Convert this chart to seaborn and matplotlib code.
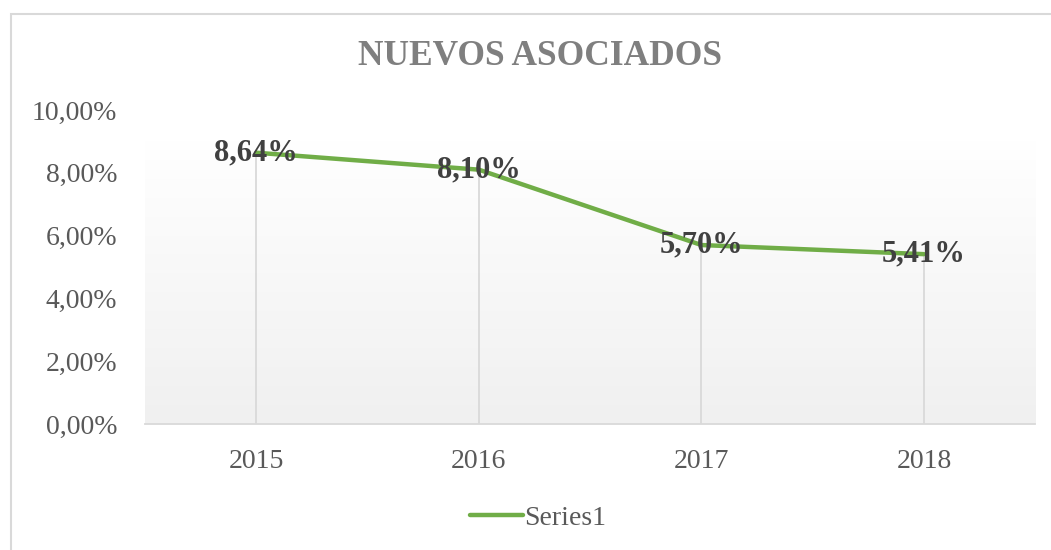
import numpy as np
import pandas as pd
import matplotlib
matplotlib.use("Agg")
import matplotlib.pyplot as plt
from matplotlib.patches import Rectangle
import seaborn as sns

# values
years = ["2015", "2016", "2017", "2018"]
values = [8.64, 8.10, 5.70, 5.41]
labels = ["8,64%", "8,10%", "5,70%", "5,41%"]
y_ticks = [0, 2, 4, 6, 8, 10]
y_tick_labels = ["0,00%", "2,00%", "4,00%", "6,00%", "8,00%", "10,00%"]
series_name = "Series1"

df = pd.DataFrame({"year": years, "value": values, "series": series_name})

sns.set_theme(style="white")
plt.rcParams["font.family"] = ["Liberation Serif", "DejaVu Serif"]

fig = plt.figure(figsize=(10.51, 5.5), dpi=100)
ax = fig.add_axes([0.138, 0.229, 0.847, 0.571])

# light gray gradient behind the plot area
grad = np.linspace(1.0, 0.0, 256).reshape(-1, 1)
ax.imshow(grad, cmap=plt.matplotlib.colors.LinearSegmentedColormap.from_list(
    "g", ["#f0f0f0", "#ffffff"]), aspect="auto",
    extent=(-0.5, 3.5, 0, 9.0), zorder=0, interpolation="bicubic")

x = np.arange(len(years))
ax.vlines(x, 0, values, color="#d9d9d9", lw=1.3, zorder=1)

sns.lineplot(data=df, x=x, y="value", color="#70ad47", lw=3.2,
             ax=ax, label=series_name, zorder=3, legend=False)

for xi, v, t in zip(x, values, labels):
    ax.text(xi, v, t, ha="center", va="center", fontsize=22,
            fontweight="bold", color="#404040", zorder=4)

ax.set_xlim(-0.5, 3.5)
ax.set_ylim(0, 10)
ax.set_xticks(x)
ax.set_xticklabels(years)
ax.set_yticks(y_ticks)
ax.set_yticklabels(y_tick_labels)
ax.tick_params(axis="x", labelsize=20, colors="#595959", length=0, pad=18)
ax.tick_params(axis="y", labelsize=20, colors="#595959", length=0, pad=20)
ax.set_xlabel("")
ax.set_ylabel("")
for s in ["top", "right", "left"]:
    ax.spines[s].set_visible(False)
ax.spines["bottom"].set_color("#d9d9d9")
ax.spines["bottom"].set_linewidth(1.3)
ax.grid(False)

fig.text(0.514, 0.897, "NUEVOS ASOCIADOS", ha="center", va="center",
         fontsize=25.5, fontweight="bold", color="#7f7f7f")

handles, _ = ax.get_legend_handles_labels()
leg = fig.legend(handles, [series_name], loc="center", bbox_to_anchor=(0.512, 0.058),
                 frameon=False, fontsize=20, handlelength=1.9, handletextpad=0.05)
for t in leg.get_texts():
    t.set_color("#595959")

# chart border
fig.patches.append(Rectangle((0.01, -0.1), 1.1, 1.075, transform=fig.transFigure,
                             fill=False, edgecolor="#d9d9d9", lw=1.5))

fig.savefig("out.png", dpi=100)
